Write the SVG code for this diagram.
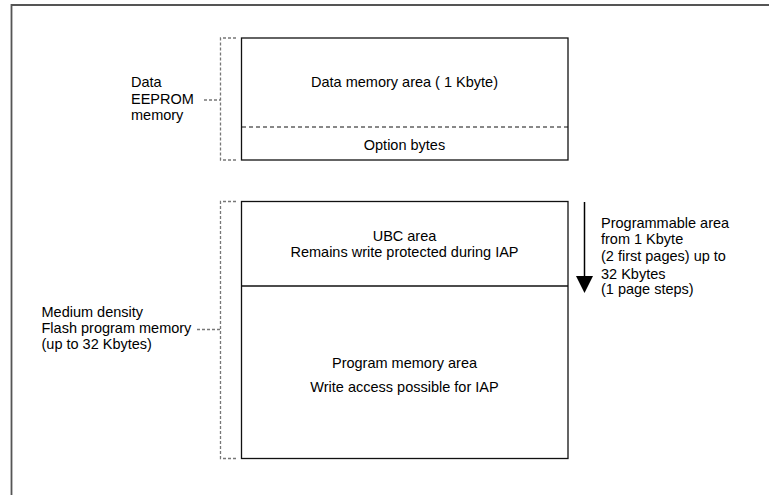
<svg xmlns="http://www.w3.org/2000/svg" width="769" height="495" viewBox="0 0 769 495">
<style>
text{font-family:"Liberation Sans",Arial,sans-serif;font-size:14.5px;fill:#000}
.c{text-anchor:middle}
.box{fill:#fff;stroke:#111;stroke-width:1.3}
.br{fill:none;stroke:#777;stroke-width:1.3;stroke-dasharray:3,2}
.dl{fill:none;stroke:#111;stroke-width:1;stroke-dasharray:4,3}
</style>
<rect width="769" height="495" fill="#fff"/>
<path d="M11.5,495 V5 H769" fill="none" stroke="#555" stroke-width="1.8"/>
<g id="eeprom">
<rect class="box" x="241.5" y="38" width="326.5" height="122"/>
<line class="dl" x1="242" y1="127" x2="568" y2="127"/>
<text class="c" x="404.5" y="87">Data memory area ( 1 Kbyte)</text>
<text class="c" x="404.5" y="150">Option bytes</text>
</g>
<g id="flash">
<rect class="box" x="241.5" y="201.5" width="326.5" height="257"/>
<line x1="241.5" y1="286" x2="568" y2="286" stroke="#111" stroke-width="1.3"/>
<text class="c" x="404.5" y="241">UBC area</text>
<text class="c" x="404.5" y="257">Remains write protected during IAP</text>
<text class="c" x="404.5" y="368">Program memory area</text>
<text class="c" x="404.5" y="392">Write access possible for IAP</text>
</g>
<g id="eeprom-label">
<text x="131" y="87">Data</text>
<text x="131" y="104">EEPROM</text>
<text x="131" y="120">memory</text>
</g>
<g id="flash-label">
<text x="41.5" y="317">Medium density</text>
<text x="41.5" y="333">Flash program memory</text>
<text x="41.5" y="349">(up to 32 Kbytes)</text>
</g>
<g id="prog-label">
<text x="601" y="227.5">Programmable area</text>
<text x="601" y="244">from 1 Kbyte</text>
<text x="601" y="260.5">(2 first pages) up to</text>
<text x="601" y="279">32 Kbytes</text>
<text x="601" y="294">(1 page steps)</text>
</g>
<g id="connectors">
<path class="br" d="M236,38 H220.5 V160 H236"/>
<path class="br" d="M204,100 H220.5"/>
<path class="br" d="M236,201.5 H220.5 V458.5 H236"/>
<path class="br" d="M197,329.5 H220.5"/>
<line x1="584.5" y1="202" x2="584.5" y2="278" stroke="#000" stroke-width="1.5"/>
<polygon points="576,276 593,276 584.5,293" fill="#000"/>
</g>
</svg>
